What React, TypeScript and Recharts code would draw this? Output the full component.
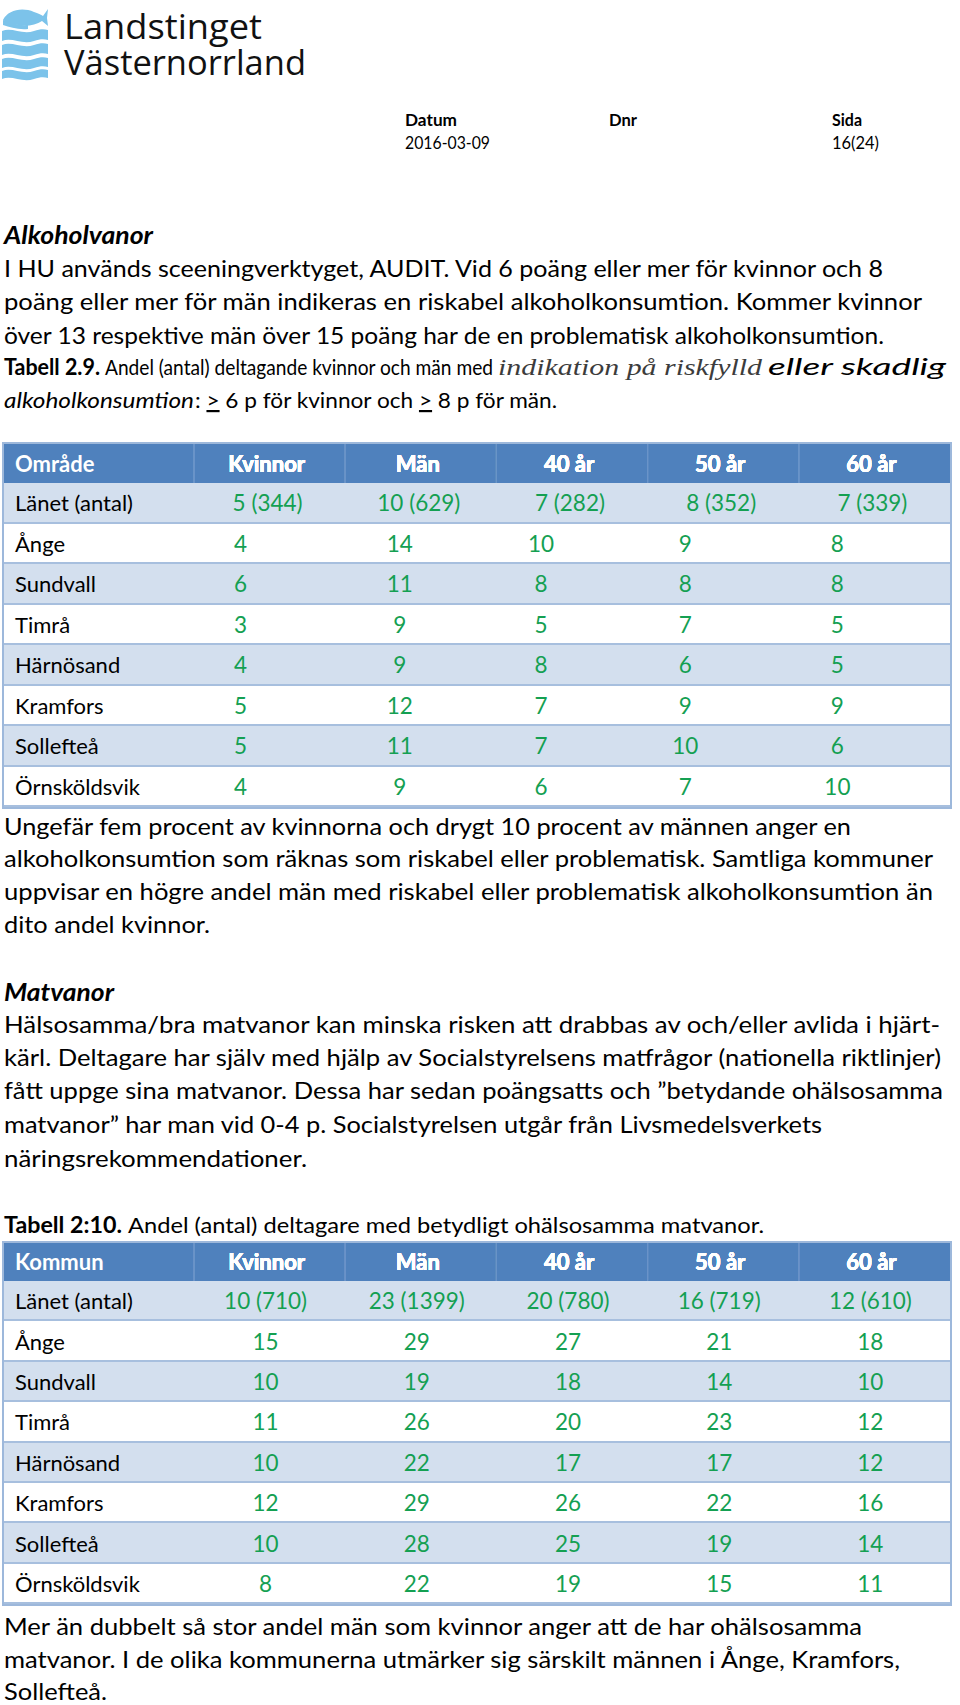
import { ScatterChart, Scatter, XAxis, YAxis } from 'recharts'

// table columns + rows
const COLUMNS = ['Kvinnor', 'Män', '40 år', '50 år', '60 år']
const AREAS = ['Länet (antal)', 'Ånge', 'Sundvall', 'Timrå', 'Härnösand', 'Kramfors', 'Sollefteå', 'Örnsköldsvik']

// Tabell 2.9 – alkohol (andel %, länet med antal)
const ALK_KVINNOR = [5, 4, 6, 3, 4, 5, 5, 4]
const ALK_MAN = [10, 14, 11, 9, 9, 12, 11, 9]
const ALK_40 = [7, 10, 8, 5, 8, 7, 7, 6]
const ALK_50 = [8, 9, 8, 7, 6, 9, 10, 7]
const ALK_60 = [7, 8, 8, 5, 5, 9, 6, 10]
const ALK_LANET_ANTAL = [344, 629, 282, 352, 339]

// Tabell 2:10 – matvanor
const MAT_KVINNOR = [10, 15, 10, 11, 10, 12, 10, 8]
const MAT_MAN = [23, 29, 19, 26, 22, 29, 28, 22]
const MAT_40 = [20, 27, 18, 20, 17, 26, 25, 19]
const MAT_50 = [16, 21, 14, 23, 17, 22, 19, 15]
const MAT_60 = [12, 18, 10, 12, 12, 16, 14, 11]
const MAT_LANET_ANTAL = [710, 1399, 780, 719, 610]

const ALK_INTRO = [
  'I HU används sceeningverktyget, AUDIT. Vid 6 poäng eller mer för kvinnor och 8',
  'poäng eller mer för män indikeras en riskabel alkoholkonsumtion. Kommer kvinnor',
  'över 13 respektive män över 15 poäng har de en problematisk alkoholkonsumtion.',
]
const ALK_NOTE = [
  'Ungefär fem procent av kvinnorna och drygt 10 procent av männen anger en',
  'alkoholkonsumtion som räknas som riskabel eller problematisk. Samtliga kommuner',
  'uppvisar en högre andel män med riskabel eller problematisk alkoholkonsumtion än',
  'dito andel kvinnor.',
]
const MAT_INTRO = [
  'Hälsosamma/bra matvanor kan minska risken att drabbas av och/eller avlida i hjärt-',
  'kärl. Deltagare har själv med hjälp av Socialstyrelsens matfrågor (nationella riktlinjer)',
  'fått uppge sina matvanor. Dessa har sedan poängsatts och ”betydande ohälsosamma',
  'matvanor” har man vid 0-4 p. Socialstyrelsen utgår från Livsmedelsverkets',
  'näringsrekommendationer.',
]
const MAT_NOTE = [
  'Mer än dubbelt så stor andel män som kvinnor anger att de har ohälsosamma',
  'matvanor. I de olika kommunerna utmärker sig särskilt männen i Ånge, Kramfors,',
  'Sollefteå.',
]

const FONT = 'Lato, "Open Sans", sans-serif'
const GREEN = '#14A052'
const HEAD_BLUE = '#4F81BD'
const BAND = '#D3DFEE'
const RULE = '#A7BFDE'

function Line({ x = 4, y, w, size = 24, weight = 400, italic = false, family = FONT, fill = '#000', adjust = 'spacingAndGlyphs', children }: any) {
  return (
    <text
      x={x}
      y={y}
      textLength={w}
      lengthAdjust={adjust}
      fontFamily={family}
      fontSize={size}
      fontWeight={weight}
      fontStyle={italic ? 'italic' : 'normal'}
      fill={fill}
    >
      {children}
    </text>
  )
}

function Paragraph({ lines, ys, ws }: { lines: string[]; ys: number[]; ws: number[] }) {
  return (
    <>
      {lines.map((l, i) => (
        <Line key={i} y={ys[i]} w={ws[i]}>{l}</Line>
      ))}
    </>
  )
}

function Logo() {
  const c = '#7CC3EA'
  const band = (t: number, b: number) =>
    `M2,${t} C12,${t - 4} 22,${t + 4} 34,${t} C40,${t - 2} 44,${t - 2} 48,${t - 1} L48,${b - 1} C44,${b - 2} 40,${b - 2} 34,${b} C22,${b + 4} 12,${b - 4} 2,${b} Z`
  return (
    <g>
      <path d="M3,20 C8,10 22,7 34,12 C38,13 41,15 43,16 L48,9 L47,18 L48,26 L42,21 C36,25 26,27 18,25 C12,24 7,23 3,20 Z" fill={c} />
      <path d="M3,20 C10,22 18,26 28,25 L28,29 C18,30 10,27 3,25 Z" fill={c} />
      <path d={band(31, 41)} fill={c} />
      <path d={band(45, 55)} fill={c} />
      <path d={band(59, 68)} fill={c} />
      <path d={band(71, 79)} fill={c} />
      <text x={64} y={39} textLength={198} lengthAdjust="spacingAndGlyphs" fontFamily='"Open Sans", sans-serif' fontSize={35} fill="#111">Landstinget</text>
      <text x={64} y={75} textLength={242} lengthAdjust="spacingAndGlyphs" fontFamily='"Open Sans", sans-serif' fontSize={35} fill="#111">Västernorrland</text>
    </g>
  )
}

interface TableProps {
  head: string
  series: number[][]
  antal: number[]
  top: number
  headH: number
  rowH: number
  firstShift: number[]
  bodyShift: number[]
}

function DataTable({ head, series, antal, top, headH, rowH, firstShift, bodyShift }: TableProps) {
  const W = 946
  const labelW = 190
  const H = headH + rowH * AREAS.length
  const colW = (W - labelW) / COLUMNS.length

  const points = AREAS.flatMap((area, i) =>
    COLUMNS.map((col, j) => ({
      area,
      col,
      j,
      first: i === 0,
      label: i === 0 ? `${series[j][i]} (${antal[j]})` : String(series[j][i]),
    }))
  )

  // eslint-disable-next-line @typescript-eslint/no-explicit-any
  const headTick = (p: any) => (
    <g>
      <line x1={p.x - colW / 2} x2={p.x - colW / 2} y1={0} y2={headH} stroke="#6A94C9" strokeWidth={1} />
      <text x={p.x - 3} y={headH / 2 + 8} textAnchor="middle" fill="#fff" fontWeight={700} fontSize={22} fontFamily={FONT}>
        {p.payload.value}
      </text>
    </g>
  )

  // eslint-disable-next-line @typescript-eslint/no-explicit-any
  const rowTick = (p: any) => (
    <text x={11} y={p.y + 8} fill="#000" fontSize={22} fontFamily={FONT}>
      {p.payload.value}
    </text>
  )

  // eslint-disable-next-line @typescript-eslint/no-explicit-any
  const cell = (p: any) => {
    const d = p.payload
    const dx = d.first ? firstShift[d.j] : bodyShift[d.j]
    return (
      <text x={p.cx + dx} y={p.cy + 8} textAnchor="middle" fill={GREEN} fontSize={22.5} fontFamily={FONT}>
        {d.label}
      </text>
    )
  }

  return (
    <div style={{ position: 'absolute', left: 4, top, width: W, height: H, boxShadow: '0 0 0 2px #9DB8DB' }}>
      <div style={{ position: 'absolute', left: 0, top: 0, width: W, height: headH, background: HEAD_BLUE }} />
      {AREAS.map((a, i) => (
        <div
          key={a}
          style={{
            position: 'absolute', left: 0, top: headH + i * rowH, width: W, height: rowH,
            background: i % 2 === 0 ? BAND : '#fff', borderBottom: `2px solid ${RULE}`, boxSizing: 'border-box',
          }}
        />
      ))}
      <div
        style={{
          position: 'absolute', left: 11, top: 0, height: headH, color: '#fff', fontFamily: FONT,
          fontWeight: 700, fontSize: 22, lineHeight: `${headH}px`,
        }}
      >
        {head}
      </div>
      <div style={{ position: 'absolute', left: 0, top: 0 }}>
        <ScatterChart width={W} height={H} margin={{ top: 0, right: 0, bottom: 0, left: 0 }}>
          <XAxis
            type="category"
            dataKey="col"
            scale="band"
            orientation="top"
            height={headH}
            allowDuplicatedCategory={false}
            axisLine={false}
            tickLine={false}
            interval={0}
            tick={headTick}
          />
          <YAxis
            type="category"
            dataKey="area"
            scale="band"
            width={labelW}
            reversed
            allowDuplicatedCategory={false}
            axisLine={false}
            tickLine={false}
            interval={0}
            tick={rowTick}
          />
          <Scatter data={points} isAnimationActive={false} shape={cell} />
        </ScatterChart>
      </div>
    </div>
  )
}

export default function App() {
  return (
    <div style={{ position: 'absolute', left: 0, top: 0, width: 960, height: 1705, background: '#fff', overflow: 'hidden' }}>
      <svg width={960} height={1705} style={{ position: 'absolute', left: 0, top: 0 }}>
        <Logo />
        <Line x={405} y={126} w={52} size={17} weight={700}>Datum</Line>
        <Line x={405} y={149} w={85} size={17}>2016-03-09</Line>
        <Line x={609} y={126} w={28} size={17} weight={700}>Dnr</Line>
        <Line x={832} y={126} w={30} size={17} weight={700}>Sida</Line>
        <Line x={832} y={149} w={47} size={17}>16(24)</Line>

        <Line y={244} w={149} weight={700} italic>Alkoholvanor</Line>
        <Paragraph lines={ALK_INTRO} ys={[277, 310, 344]} ws={[879, 918, 880]} />

        <Line y={375} w={96} size={22} weight={700}>Tabell 2.9.</Line>
        <Line x={105} y={375} w={388} size={22}>Andel (antal) deltagande kvinnor och män med</Line>
        <Line x={498} y={375} w={264} size={24} italic family='"Liberation Serif", serif' fill="#3c3c3c">indikation på riskfylld</Line>
        <Line x={768} y={375} w={178} size={24} italic>eller skadlig</Line>
        <Line y={408} w={190} size={22} italic>alkoholkonsumtion</Line>
        <Line x={195} y={408} w={362} size={22}>
          {': '}
          <tspan style={{ textDecoration: 'underline' }}>&gt;</tspan>
          {' 6 p för kvinnor och '}
          <tspan style={{ textDecoration: 'underline' }}>&gt;</tspan>
          {' 8 p för män.'}
        </Line>

        <Paragraph lines={ALK_NOTE} ys={[835, 867, 900, 933]} ws={[847, 929, 929, 206]} />

        <Line y={1001} w={110} weight={700} italic>Matvanor</Line>
        <Paragraph lines={MAT_INTRO} ys={[1033, 1066, 1099, 1133, 1167]} ws={[936, 937, 939, 818, 303]} />

        <Line y={1233} w={118} size={22} weight={700}>Tabell 2:10.</Line>
        <Line x={128} y={1233} w={636} size={22}>Andel (antal) deltagare med betydligt ohälsosamma matvanor.</Line>

        <Paragraph lines={MAT_NOTE} ys={[1635, 1668, 1700]} ws={[858, 896, 103]} />
      </svg>

      <DataTable
        head="Område"
        series={[ALK_KVINNOR, ALK_MAN, ALK_40, ALK_50, ALK_60]}
        antal={ALK_LANET_ANTAL}
        top={444}
        headH={39}
        rowH={40.5}
        firstShift={[-2, -2, -2, -2, -2]}
        bodyShift={[-29, -21, -31, -38, -37]}
      />
      <DataTable
        head="Kommun"
        series={[MAT_KVINNOR, MAT_MAN, MAT_40, MAT_50, MAT_60]}
        antal={MAT_LANET_ANTAL}
        top={1243}
        headH={38}
        rowH={40.4}
        firstShift={[-4, -4, -4, -4, -4]}
        bodyShift={[-4, -4, -4, -4, -4]}
      />
    </div>
  )
}
